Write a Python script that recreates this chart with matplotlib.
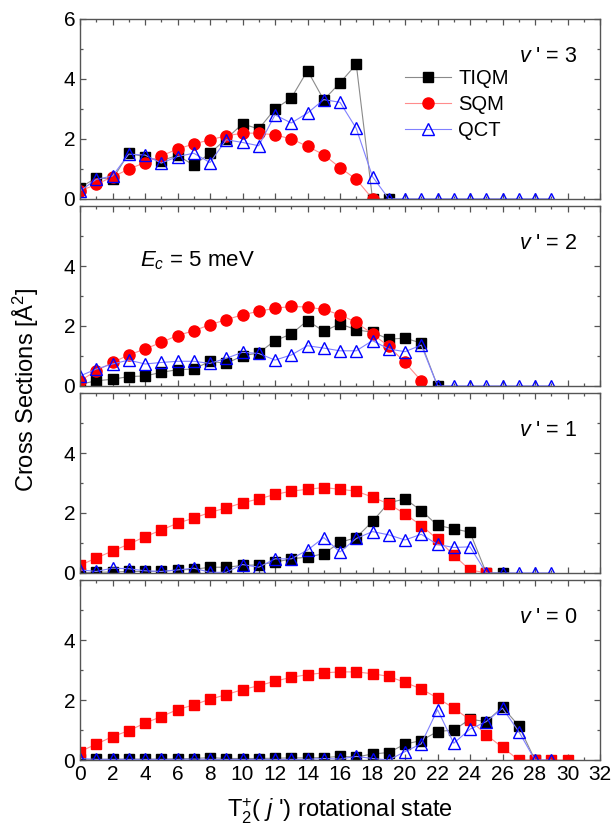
import matplotlib
matplotlib.use("Agg")
import matplotlib.pyplot as plt
from matplotlib.ticker import MultipleLocator

plt.rcParams['font.family'] = ['Liberation Sans', 'DejaVu Sans']
plt.rcParams['mathtext.fontset'] = 'custom'
plt.rcParams['mathtext.rm'] = 'Liberation Sans'
plt.rcParams['mathtext.it'] = 'Liberation Sans:italic'

# v' = 3
tiqm_v3 = [0.37, 0.70, 0.65, 1.52, 1.40, 1.27, 1.45, 1.12, 1.52, 2.00, 2.50, 2.33,
           3.00, 3.36, 4.28, 3.30, 3.87, 4.49, 0.0, 0.0]
sqm_v3 = [0.26, 0.48, 0.73, 0.99, 1.21, 1.43, 1.66, 1.83, 1.97, 2.10, 2.19, 2.19,
          2.13, 2.00, 1.75, 1.47, 1.04, 0.65, 0.0]
qct_v3 = [0.26, 0.65, 0.76, 1.49, 1.46, 1.19, 1.41, 1.52, 1.21, 1.97, 1.88, 1.77,
          2.80, 2.53, 2.86, 3.31, 3.22, 2.35, 0.74, 0, 0, 0, 0, 0, 0, 0, 0, 0, 0, 0]

# v' = 2
tiqm_v2 = [0.05, 0.17, 0.22, 0.31, 0.33, 0.45, 0.54, 0.56, 0.82, 0.75, 1.00, 1.10,
           1.51, 1.73, 2.18, 1.82, 2.07, 1.87, 1.79, 1.56, 1.59, 1.43, 0.0]
sqm_v2 = [0.17, 0.50, 0.78, 1.03, 1.23, 1.45, 1.68, 1.84, 2.04, 2.21, 2.37, 2.49,
          2.59, 2.65, 2.63, 2.55, 2.37, 2.12, 1.73, 1.32, 0.78, 0.17]
qct_v2 = [0.33, 0.56, 0.73, 0.86, 0.73, 0.78, 0.82, 0.82, 0.75, 0.92, 1.12, 1.08,
          0.86, 1.03, 1.34, 1.26, 1.17, 1.17, 1.51, 1.23, 1.14, 1.36, 0, 0, 0, 0, 0, 0, 0, 0]

# v' = 1
tiqm_v1 = [0.0, 0.02, 0.03, 0.05, 0.05, 0.05, 0.10, 0.12, 0.19, 0.19, 0.25, 0.27,
           0.36, 0.47, 0.53, 0.64, 1.02, 1.18, 1.72, 2.34, 2.47, 2.08, 1.59, 1.47,
           1.36, 0.0, 0.0]
sqm_v1 = [0.25, 0.50, 0.73, 0.96, 1.21, 1.43, 1.66, 1.83, 2.02, 2.17, 2.34, 2.47,
          2.62, 2.73, 2.79, 2.85, 2.79, 2.73, 2.53, 2.30, 1.97, 1.58, 1.13, 0.59,
          0.10, 0.0]
qct_v1 = [0.10, 0.05, 0.16, 0.14, 0.07, 0.05, 0.10, 0.16, 0.02, 0.02, 0.28, 0.19,
          0.47, 0.47, 0.76, 1.18, 0.70, 1.15, 1.38, 1.27, 1.10, 1.29, 0.95, 0.85,
          0.87, 0, 0, 0, 0, 0]

# v' = 0
tiqm_v0 = [0.02, 0.02, 0.03, 0.03, 0.03, 0.03, 0.04, 0.05, 0.08, 0.05, 0.05, 0.05,
           0.06, 0.07, 0.07, 0.08, 0.12, 0.10, 0.20, 0.25, 0.53, 0.65, 0.95, 1.00,
           1.36, 1.28, 1.77, 1.14, 0.0]
sqm_v0 = [0.28, 0.53, 0.78, 0.98, 1.23, 1.45, 1.68, 1.84, 2.03, 2.18, 2.35, 2.48,
          2.63, 2.76, 2.85, 2.91, 2.94, 2.94, 2.88, 2.79, 2.59, 2.37, 2.07, 1.73,
          1.34, 0.84, 0.42, 0.0, 0.0, 0.0, 0.0]
qct_v0 = [0.05, 0.02, 0.02, 0.02, 0.02, 0.02, 0.02, 0.03, 0.02, 0.02, 0.02, 0.02,
          0.02, 0.02, 0.02, 0.05, 0.03, 0.12, 0.05, 0.0, 0.28, 0.54, 1.68, 0.56,
          1.03, 1.28, 1.73, 0.95, 0.0, 0.0]

panels = [
    ("3", tiqm_v3, sqm_v3, qct_v3, 'o'),
    ("2", tiqm_v2, sqm_v2, qct_v2, 'o'),
    ("1", tiqm_v1, sqm_v1, qct_v1, 's'),
    ("0", tiqm_v0, sqm_v0, qct_v0, 's'),
]

fig, axes = plt.subplots(4, 1, sharex=True, figsize=(6.14, 8.34), dpi=100)
fig.subplots_adjust(left=80/614, right=600/614, top=1-19/834, bottom=1-760/834,
                    hspace=7.3/180)

spine_col = '#555555'
for k, (ax, (v, tiqm, sqm, qct, sqm_marker)) in enumerate(zip(axes, panels)):
    ax.plot(range(len(tiqm)), tiqm, marker='s', ms=7.3, color='#8a8a8a', lw=0.8,
            mfc='black', mec='black', label='TIQM')
    ax.plot(range(len(sqm)), sqm, marker=sqm_marker, ms=8 if sqm_marker == 'o' else 7.3,
            color='#ff8c8c', lw=0.8, mfc='red', mec='red', label='SQM')
    ax.plot(range(len(qct)), qct, marker='^', ms=8.3, color='#8080ff', lw=0.8,
            mfc='none', mec='blue', mew=1.0, label='QCT')

    ax.set_xlim(0, 32)
    ax.set_ylim(0, 6)
    ax.xaxis.set_major_locator(MultipleLocator(2))
    ax.xaxis.set_minor_locator(MultipleLocator(1))
    ax.set_yticks([0, 2, 4, 6] if k == 0 else [0, 2, 4])
    ax.yaxis.set_minor_locator(MultipleLocator(1))
    ax.tick_params(which='both', direction='in', top=True, right=True,
                   color=spine_col, labelsize=15)
    ax.tick_params(which='major', length=4, width=0.9)
    ax.tick_params(which='minor', length=2.5, width=0.9)
    for s in ax.spines.values():
        s.set_color(spine_col)
        s.set_linewidth(1.0)

    ax.text(30.6, 4.75, r"$v$ ' = " + v, ha='right', va='center', fontsize=15.5)

axes[1].text(3.7, 4.17, r"$E_c$ = 5 meV", ha='left', va='center', fontsize=16)

axes[0].legend(loc='upper left', bbox_to_anchor=(0.625, 0.72), frameon=False,
               fontsize=14.5, handlelength=2.3, handletextpad=0.35,
               labelspacing=0.35, borderpad=0, borderaxespad=0)

axes[-1].set_xlabel(r"T$_2^{+}$( $j$ ') rotational state", fontsize=17, labelpad=9)
fig.text(0.042, (1 - 19/834 + 1 - 760/834) / 2, "Cross Sections [Å$^2$]",
         rotation=90, ha='center', va='center', fontsize=17)

plt.savefig('out.png', dpi=100)
